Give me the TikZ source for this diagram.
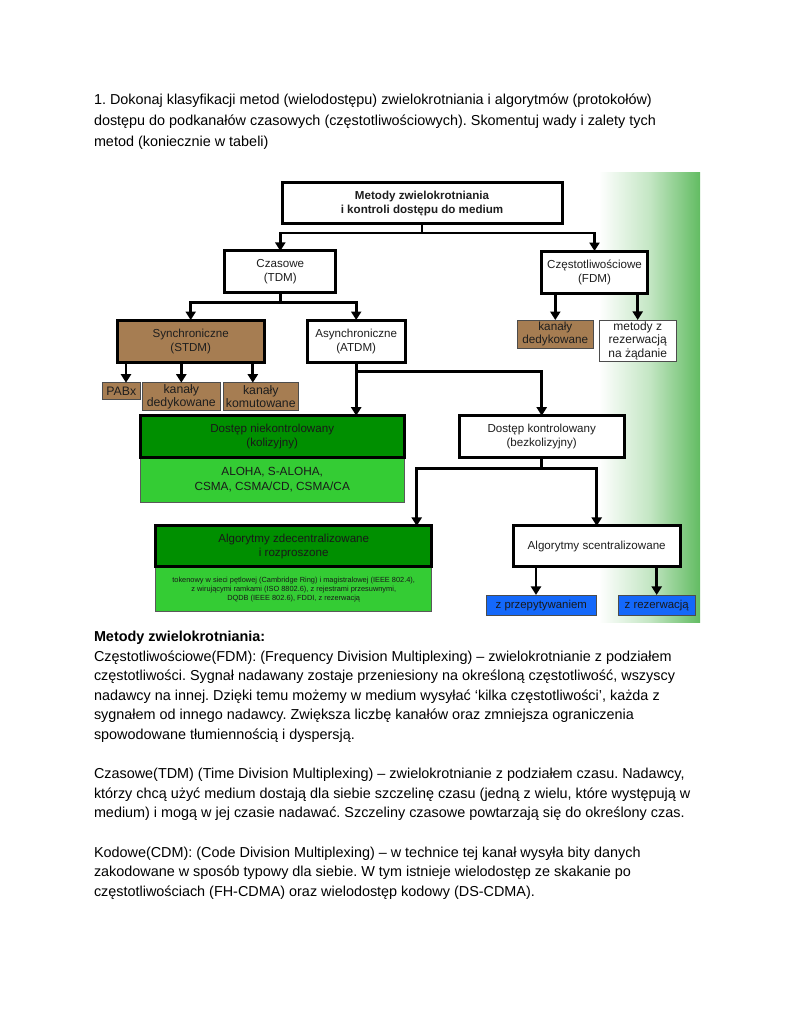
\documentclass[tikz,border=0pt]{standalone}
\usepackage{fontspec}
\setmainfont{Liberation Sans}
\usetikzlibrary{arrows.meta,calc}
\definecolor{brownbox}{RGB}{166,125,82}
\definecolor{dkgreen}{RGB}{0,143,0}
\definecolor{ltgreen}{RGB}{52,204,52}
\definecolor{bluebox}{RGB}{20,104,250}
\definecolor{gradgreen}{RGB}{98,188,98}
\definecolor{gradmid}{RGB}{196,230,196}
\definecolor{txt}{RGB}{30,30,30}
\pgfdeclarehorizontalshading{gshade}{100bp}{color(0bp)=(white); color(25bp)=(white); color(29bp)=(white); color(52bp)=(gradmid); color(75bp)=(gradgreen); color(100bp)=(gradgreen)}
\frenchspacing
\begin{document}
\begin{tikzpicture}[x=1pt,y=-1pt,
  every node/.style={inner sep=0pt,outer sep=0pt},
  bigbox/.style={draw=black,line width=3pt,fill=white,align=center,text=txt,font=\fontsize{11.6}{14}\selectfont},
  greenbox/.style={bigbox,fill=dkgreen,text=black!90},
  lightbox/.style={draw=black!65,line width=0.9pt,fill=ltgreen,align=center,text=black!90},
  smallbox/.style={draw=black!70,line width=0.9pt,fill=brownbox,align=center,text=txt,font=\fontsize{12.3}{13.2}\selectfont},
  whitesmall/.style={draw=black!70,line width=0.9pt,fill=white,align=center,text=txt,font=\fontsize{12}{13.3}\selectfont},
  bluesmall/.style={draw=black!70,line width=0.9pt,fill=bluebox,align=center,text=black!90,font=\fontsize{11.4}{13}\selectfont},
  ln/.style={line width=2.7pt},
  arr/.style={line width=2.7pt,-{Triangle[width=10pt,length=8.5pt]}},
  bodytext/.style={anchor=base west,font=\fontsize{14.4}{19.6}\selectfont,text=black}
]
\useasboundingbox (0,0) rectangle (791,1024);
\fill[white] (0,0) rectangle (791,1024);

% heading text
\node[bodytext] (h1) at (94,105) {1. Dokonaj klasyfikacji metod (wielodostępu) zwielokrotniania i algorytmów (protokołów)};
\node[bodytext] (h2) at (94,126) {dostępu do podkanałów czasowych (częstotliwościowych). Skomentuj wady i zalety tych};
\node[bodytext] (h3) at (94,147) {metod (koniecznie w tabeli)};

% green background gradient
\shade[shading=gshade] (590,172.5) rectangle (700,622.5);

% boxes
\node[bigbox,minimum width=280,minimum height=41] (top) at (422,203.5)
  {\bfseries Metody zwielokrotniania\\\bfseries i kontroli dostępu do medium};
\node[bigbox,minimum width=110.7,minimum height=41.7] (czas) at (280.3,271.8) {Czasowe\\(TDM)};
\node[bigbox,minimum width=105.6,minimum height=42.3] (fdm) at (594.5,272.2) {Częstotliwościowe\\(FDM)};
\node[bigbox,fill=brownbox,minimum width=146.7,minimum height=42.3] (sync) at (190.7,341.2) {Synchroniczne\\(STDM)};
\node[bigbox,minimum width=97.7,minimum height=42] (async) at (356.2,341) {Asynchroniczne\\(ATDM)};

\node[smallbox,minimum width=37.3,minimum height=16.6] (pabx) at (121.3,391) {PABx};
\node[smallbox,minimum width=77.3,minimum height=27.8] (kded) at (181.3,396.6) {kanały\\dedykowane};
\node[smallbox,minimum width=75,minimum height=27.8] (kkom) at (260.8,396.6) {kanały\\komutowane};

\node[smallbox,font=\fontsize{11.7}{12.6}\selectfont,minimum width=76,minimum height=28.3] (fded) at (555.3,334.2) {kanały\\dedykowane};
\node[whitesmall,minimum width=76.7,minimum height=41.7] (fmet) at (637.7,340.8) {metody z\\rezerwacją\\na żądanie};

\node[lightbox,font=\fontsize{11.8}{15}\selectfont,minimum width=264.3,minimum height=45.4] (nkl) at (272.2,480) {ALOHA, S-ALOHA,\\CSMA, CSMA/CD, CSMA/CA};
\node[greenbox,minimum width=264.3,minimum height=41.6] (nk) at (272.2,436.5) {Dostęp niekontrolowany\\(kolizyjny)};
\node[bigbox,minimum width=165.3,minimum height=41.6] (kon) at (541.7,436.5) {Dostęp kontrolowany\\(bezkolizyjny)};

\node[lightbox,font=\fontsize{7.4}{9}\selectfont,minimum width=276,minimum height=45] (zdl) at (293.7,589.2)
  {tokenowy w sieci pętlowej (Cambridge Ring) i magistralowej (IEEE 802.4),\\z wirującymi ramkami (ISO 8802.6), z rejestrami przesuwnymi,\\DQDB (IEEE 802.6), FDDI, z rezerwacją};
\node[greenbox,minimum width=276,minimum height=40.7] (zd) at (293.7,546.3) {Algorytmy zdecentralizowane\\i rozproszone};
\node[bigbox,minimum width=166.7,minimum height=40.7] (sc) at (596.7,546.3) {Algorytmy scentralizowane};

\node[bluesmall,minimum width=109.3,minimum height=20.5] (prz) at (541.3,605.2) {z przepytywaniem};
\node[bluesmall,minimum width=76.7,minimum height=20.5] (rez) at (656.7,605.2) {z rezerwacją};

% connectors
\coordinate (b1) at ($(top.south)+(0,9)$);
\draw[ln] (top.south) -- (b1);
\draw[arr] (b1) -| (czas.north);
\draw[arr] (b1) -| (fdm.north);

\coordinate (b2) at ($(czas.south)+(0,10)$);
\draw[ln] (czas.south) -- (b2);
\draw[arr] (b2) -| (sync.north);
\draw[arr] (b2) -| (async.north);

\coordinate (pa) at ([xshift=4.7pt]pabx.north);
\coordinate (kk) at ([xshift=-8pt]kkom.north);
\draw[arr] (pa |- sync.south) -- (pa);
\draw[arr] (kded.north |- sync.south) -- (kded.north);
\draw[arr] (kk |- sync.south) -- (kk);

\draw[arr] (fded.north |- fdm.south) -- (fded.north);
\draw[arr] (fmet.north |- fdm.south) -- (fmet.north);

\coordinate (b3) at ($(async.south)+(0,9.7)$);
\draw[arr] (async.south) -- (async.south |- nk.north);
\draw[arr] (b3) -| (kon.north);

\coordinate (b4) at ($(kon.south)+(0,11)$);
\coordinate (zdin) at ([xshift=123pt]zd.north);
\draw[ln] (kon.south) -- (b4);
\draw[arr] (b4) -| (zdin);
\draw[arr] (b4) -| (sc.north);

\coordinate (pz) at ([xshift=-5.3pt]prz.north);
\draw[arr] (pz |- sc.south) -- (pz);
\draw[arr] (rez.north |- sc.south) -- (rez.north);

% body text
\node[bodytext,font=\fontsize{14.4}{19.6}\selectfont\bfseries] (t0) at (94,641.5) {Metody zwielokrotniania:};
\node[bodytext] (t1) at (94,661.1) {Częstotliwościowe(FDM): (Frequency Division Multiplexing) – zwielokrotnianie z podziałem};
\node[bodytext] (t2) at (94,680.7) {częstotliwości. Sygnał nadawany zostaje przeniesiony na określoną częstotliwość, wszyscy};
\node[bodytext] (t3) at (94,700.3) {nadawcy na innej. Dzięki temu możemy w medium wysyłać ‘kilka częstotliwości’, każda z};
\node[bodytext] (t4) at (94,719.9) {sygnałem od innego nadawcy. Zwiększa liczbę kanałów oraz zmniejsza ograniczenia};
\node[bodytext] (t5) at (94,739.5) {spowodowane tłumiennością i dyspersją.};

\node[bodytext] (c1) at (94,778.7) {Czasowe(TDM) (Time Division Multiplexing) – zwielokrotnianie z podziałem czasu. Nadawcy,};
\node[bodytext] (c2) at (94,798.3) {którzy chcą użyć medium dostają dla siebie szczelinę czasu (jedną z wielu, które występują w};
\node[bodytext] (c3) at (94,817.9) {medium) i mogą w jej czasie nadawać. Szczeliny czasowe powtarzają się do określony czas.};

\node[bodytext] (k1) at (94,857.1) {Kodowe(CDM): (Code Division Multiplexing) – w technice tej kanał wysyła bity danych};
\node[bodytext] (k2) at (94,876.7) {zakodowane w sposób typowy dla siebie. W tym istnieje wielodostęp ze skakanie po};
\node[bodytext] (k3) at (94,896.3) {częstotliwościach (FH-CDMA) oraz wielodostęp kodowy (DS-CDMA).};
\end{tikzpicture}
\end{document}
